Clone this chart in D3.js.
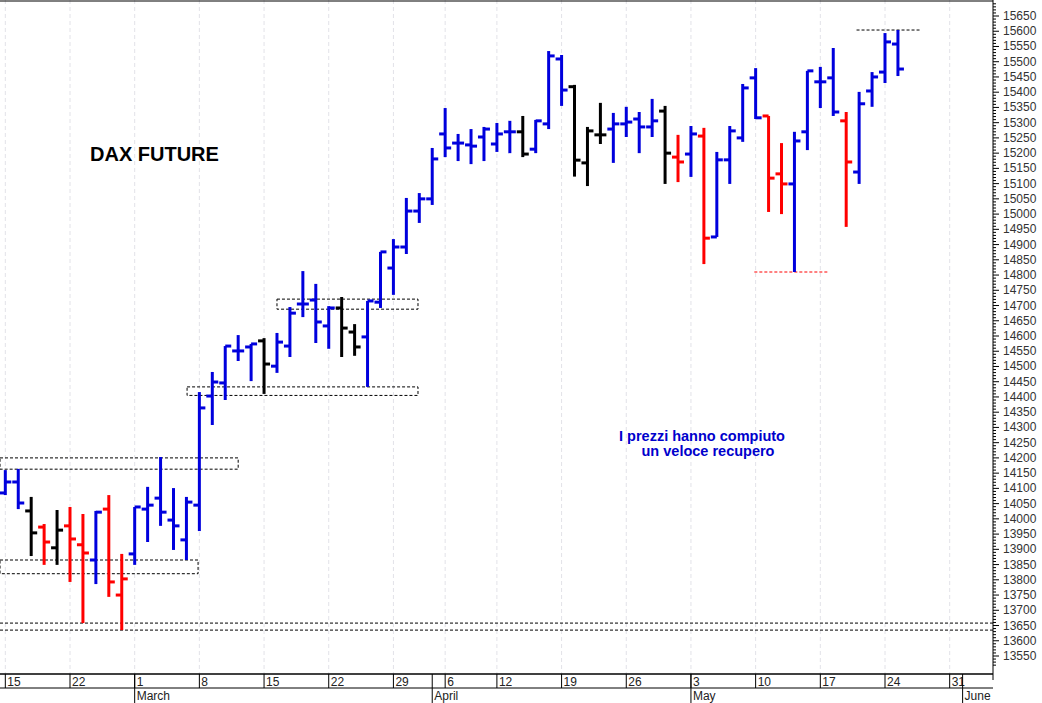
<!DOCTYPE html>
<html><head><meta charset="utf-8">
<script src="https://cdn.jsdelivr.net/npm/d3@7"></script>
<style>body{margin:0;background:#fff}svg{display:block}</style>
</head><body>
<script>
// trading days (Apr 2 and Apr 5 closed)
const dates = ["02-15","02-16","02-17","02-18","02-19","02-22","02-23","02-24","02-25","02-26",
  "03-01","03-02","03-03","03-04","03-05","03-08","03-09","03-10","03-11","03-12",
  "03-15","03-16","03-17","03-18","03-19","03-22","03-23","03-24","03-25","03-26",
  "03-29","03-30","03-31","04-01","04-06","04-07","04-08","04-09",
  "04-12","04-13","04-14","04-15","04-16","04-19","04-20","04-21","04-22","04-23",
  "04-26","04-27","04-28","04-29","04-30","05-03","05-04","05-05","05-06","05-07",
  "05-10","05-11","05-12","05-13","05-14","05-17","05-18","05-19","05-20","05-21",
  "05-24","05-25"];
const open = [14085,14121,14026,13973,13905,13977,13915,13865,14032,13750,
  13885,14032,14068,13996,13931,14045,14403,14446,14551,14564,
  14584,14501,14567,14705,14718,14633,14692,14613,14597,14711,
  14823,14892,15010,15050,15263,15233,15227,15253,
  15230,15270,15270,15213,15296,15509,15418,15168,15260,15279,
  15296,15312,15286,15338,15187,15197,15256,14925,15178,15250,
  15447,15322,15132,15099,15270,15434,15447,15306,15138,15404,
  15466,15558];
const high = [14160,14164,14072,13983,14029,14039,14016,14026,14078,13885,
  14039,14105,14203,14101,14072,14416,14482,14567,14603,14574,
  14593,14610,14695,14813,14771,14698,14728,14639,14715,14876,
  14918,15053,15069,15217,15348,15263,15279,15286,
  15299,15306,15322,15309,15535,15522,15424,15286,15365,15332,
  15352,15335,15378,15355,15260,15289,15283,15204,15289,15427,
  15479,15322,15233,15270,15470,15483,15545,15335,15401,15466,
  15594,15604];
const low = [14078,14032,13878,13849,13849,13793,13658,13786,13744,13635,
  13849,13924,13977,13898,13865,13960,14308,14390,14518,14452,
  14410,14479,14531,14662,14577,14558,14531,14535,14433,14692,
  14735,14869,14971,15030,15187,15174,15164,15174,
  15204,15200,15187,15200,15279,15355,15123,15092,15230,15168,
  15253,15200,15253,15099,15105,15122,14836,14925,15099,15237,
  15312,15007,15000,14810,15210,15348,15322,14958,15099,15352,
  15430,15453];
const close = [14121,14052,13954,13924,13963,13934,13888,14022,13793,13803,
  14039,14045,14022,13977,14055,14364,14449,14567,14551,14574,
  14508,14580,14675,14705,14646,14692,14626,14564,14715,14876,
  14892,15010,15050,15181,15217,15233,15223,15279,
  15263,15270,15197,15306,15519,15407,15177,15273,15260,15296,
  15302,15286,15306,15200,15171,15263,14921,15178,15273,15414,
  15316,15118,15099,15240,15470,15434,15335,15171,15362,15450,
  15565,15476];
// b = blue, r = red, k = black
const tone = "bbkrkrrbrr" + "bbbbbbbbbb" + "kbbbbbkkbb" + "bbbbbbbb" + "bbkbbbkkkb" + "bbbkrbrbbb" + "brrbbbbrbb" + "bb";

const weekTicks = [["15",-5],["22",0],["1",5],["8",10],["15",15],["22",20],["29",25],["6",29],
  ["12",33],["19",38],["26",43],["3",48],["10",53],["17",58],["24",63],["31",68]];
const months = [["March",5],["April",28],["May",48],["June",69]];
// [from index, to index, top value, bottom value], indices relative to Feb 22
const boxes = [[-6,13,14200,14163],[-6,9.9,13865,13820],[9.05,26.9,14433,14405],[16,26.9,14721,14688]];
const hLines = [13658,13635];

const W = 1042, H = 703, plotR = 993, plotB = 674;
const svg = d3.select("body").append("svg").attr("width", W).attr("height", H);
const x = d3.scaleLinear().domain([0, 63]).range([70, 885]);
const y = d3.scaleLinear().domain([13550, 15650]).range([656, 16]);
const colors = {b: "#0000dd", r: "#ff0000", k: "#000000"};
const idx0 = 5; // index of Feb 22 in dates

// vertical dashed grid
svg.append("g").selectAll("line").data(weekTicks).join("line")
  .attr("x1", d => x(d[1])).attr("x2", d => x(d[1])).attr("y1", 0).attr("y2", plotB)
  .attr("stroke", "#e2e2e8").attr("stroke-dasharray", "4,3");

// frame
svg.append("line").attr("x1", 0).attr("x2", plotR).attr("y1", 1).attr("y2", 1).attr("stroke", "#000");
svg.append("line").attr("x1", 0).attr("x2", plotR).attr("y1", plotB).attr("y2", plotB).attr("stroke", "#000").attr("stroke-width", 1.5);
svg.append("line").attr("x1", 0).attr("x2", plotR).attr("y1", 688).attr("y2", 688).attr("stroke", "#000");

// support / resistance
const dash = svg.append("g").attr("fill", "none").attr("stroke", "#000").attr("stroke-dasharray", "3,2");
boxes.forEach(b => dash.append("rect")
  .attr("x", Math.max(0, x(b[0]))).attr("y", y(b[2]))
  .attr("width", x(b[1]) - Math.max(0, x(b[0]))).attr("height", y(b[3]) - y(b[2])));
hLines.forEach(v => dash.append("line").attr("x1", 0).attr("x2", plotR).attr("y1", y(v)).attr("y2", y(v)));
dash.append("line").attr("x1", x(60.8)).attr("x2", x(65.7)).attr("y1", y(15604)).attr("y2", y(15604));
dash.append("line").attr("x1", x(52.9)).attr("x2", x(58.6)).attr("y1", y(14810)).attr("y2", y(14810)).attr("stroke", "#ff0000");

// OHLC bars
const bars = svg.append("g").attr("stroke-width", 3);
dates.forEach((d, i) => {
  const cx = x(i - idx0), c = colors[tone[i]];
  const g = bars.append("g").attr("stroke", c);
  g.append("line").attr("x1", cx).attr("x2", cx).attr("y1", y(high[i])).attr("y2", y(low[i]));
  g.append("line").attr("x1", cx - 6).attr("x2", cx).attr("y1", y(open[i])).attr("y2", y(open[i]));
  g.append("line").attr("x1", cx).attr("x2", cx + 6).attr("y1", y(close[i])).attr("y2", y(close[i]));
});

// right axis
const axisG = svg.append("g").attr("transform", `translate(${plotR},0)`);
axisG.append("line").attr("y1", 0).attr("y2", 680).attr("stroke", "#000");
axisG.selectAll(".mn").data(d3.range(13520, 15700, 10)).join("line")
  .attr("x1", 0).attr("x2", d => d % 50 === 0 ? 6 : 3).attr("y1", d => y(d)).attr("y2", d => y(d))
  .attr("stroke", "#000");
axisG.selectAll("text").data(d3.range(13550, 15651, 50)).join("text")
  .attr("x", 10).attr("y", d => y(d) + 4).text(d => d)
  .attr("font-family", "Liberation Sans, Arial, sans-serif").attr("font-size", 12).attr("fill", "#333");

// date axis
const nar = "Liberation Sans Narrow, Arial Narrow, Liberation Sans, sans-serif";
const dx = svg.append("g");
weekTicks.forEach(t => {
  const tx = x(t[1]);
  dx.append("line").attr("x1", tx).attr("x2", tx).attr("y1", plotB).attr("y2", 688).attr("stroke", "#000");
  dx.append("text").attr("x", tx + 2).attr("y", 686).text(t[0])
    .attr("font-family", nar).attr("font-size", 12).attr("fill", "#222");
});
months.forEach(m => {
  const tx = x(m[1]);
  dx.append("line").attr("x1", tx).attr("x2", tx).attr("y1", plotB).attr("y2", 703).attr("stroke", "#000");
  dx.append("text").attr("x", tx + 2).attr("y", 700).text(m[0])
    .attr("font-family", nar).attr("font-size", 12).attr("fill", "#222");
});

// annotations
svg.append("text").attr("x", 90).attr("y", 161).text("DAX FUTURE")
  .attr("font-family", "Liberation Sans, Arial, sans-serif").attr("font-weight", "bold").attr("font-size", 20);
const note = svg.append("text").attr("font-family", "Liberation Sans, Arial, sans-serif")
  .attr("font-weight", "bold").attr("font-size", 14.5).attr("fill", "#0000cc").attr("text-anchor", "middle");
note.append("tspan").attr("x", 702).attr("y", 441).text("I prezzi hanno compiuto");
note.append("tspan").attr("x", 708).attr("y", 456).text("un veloce recupero");
</script>
</body></html>
